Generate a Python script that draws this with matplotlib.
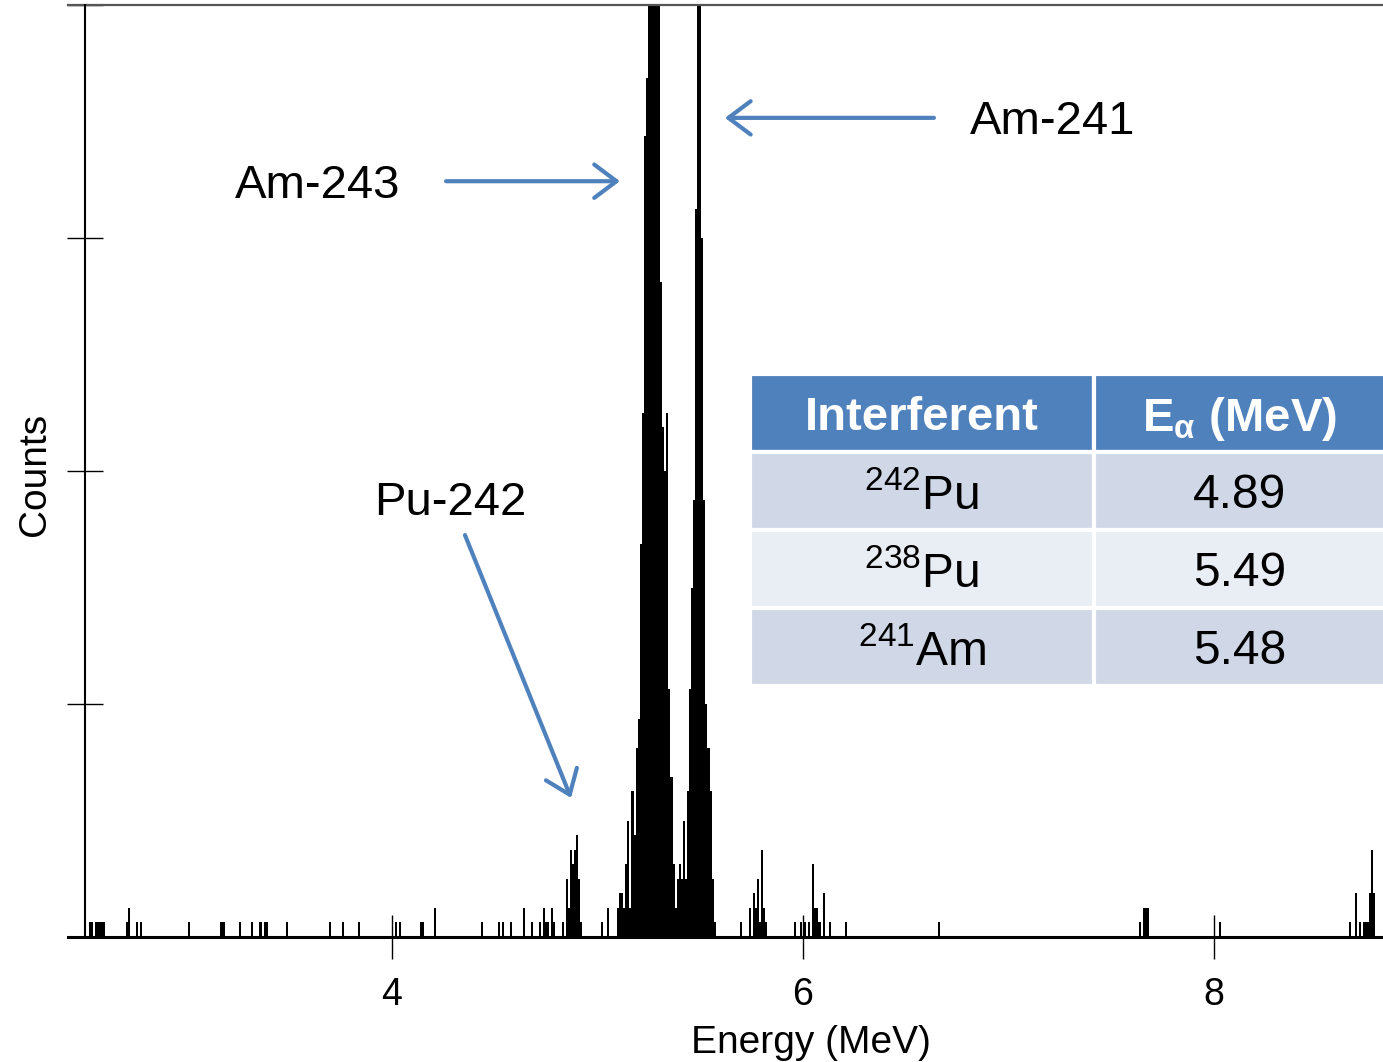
import matplotlib
matplotlib.use('Agg')
import matplotlib.pyplot as plt

plt.rcParams['font.family'] = 'Liberation Sans'
plt.rcParams['mathtext.fontset'] = 'custom'
plt.rcParams['mathtext.rm'] = 'Liberation Sans'
plt.rcParams['mathtext.it'] = 'Liberation Sans:italic'
plt.rcParams['mathtext.bf'] = 'Liberation Sans:bold'
plt.rcParams['mathtext.default'] = 'regular'

# alpha spectrum, counts per 0.01 MeV channel
bg_energy = [2.53, 2.54, 2.56, 2.57, 2.58, 2.59, 2.60, 2.71, 2.72, 2.76, 2.78,
             3.01, 3.17, 3.18, 3.26, 3.32, 3.36, 3.38, 3.39, 3.49, 3.70, 3.76,
             3.84, 4.02, 4.04, 4.14, 4.15, 4.21, 4.44, 4.52, 4.54, 4.58, 4.64,
             4.68, 4.72, 4.74, 4.75, 4.76, 4.78, 4.79, 4.83, 5.02, 5.05,
             5.70, 5.74, 5.76, 5.77, 5.78, 5.79, 5.80, 5.81, 5.82,
             5.96, 5.99, 6.01, 6.03, 6.05, 6.06, 6.07, 6.08, 6.10, 6.13, 6.21,
             6.66, 7.64, 7.66, 7.67, 7.68, 8.03,
             8.66, 8.69, 8.71, 8.73, 8.74, 8.75, 8.76, 8.77, 8.78]
bg_counts = [1, 1, 1, 1, 1, 1, 1, 1, 2, 1, 1,
             1, 1, 1, 1, 1, 1, 1, 1, 1, 1, 1,
             1, 1, 1, 1, 1, 2, 1, 1, 1, 1, 2,
             1, 1, 2, 1, 1, 2, 1, 1, 1, 2,
             1, 2, 3, 2, 4, 1, 6, 2, 1,
             1, 1, 1, 1, 5, 2, 2, 1, 3, 1, 1,
             1, 1, 2, 2, 2, 1,
             1, 3, 1, 1, 1, 1, 3, 6, 3]

pu242_energy = [4.85, 4.86, 4.87, 4.88, 4.89, 4.90, 4.91, 4.92]
pu242_counts = [4, 2, 6, 5, 6, 7, 4, 1]

am243_energy = [5.10, 5.11, 5.12, 5.13, 5.14, 5.15, 5.16, 5.17, 5.18, 5.19,
                5.20, 5.21, 5.22, 5.23, 5.24, 5.25, 5.26, 5.27, 5.28, 5.29,
                5.30, 5.31, 5.32, 5.33, 5.34, 5.35, 5.36, 5.37, 5.38]
am243_counts = [2, 3, 3, 2, 5, 8, 2, 10, 7, 13,
                15, 27, 36, 55, 59, 150, 170, 180, 175, 160,
                140, 45, 35, 32, 36, 17, 11, 5, 2]

am241_energy = [5.39, 5.40, 5.41, 5.42, 5.43, 5.44, 5.45, 5.46, 5.47, 5.48,
                5.49, 5.50, 5.51, 5.52, 5.53, 5.54, 5.55, 5.56, 5.57]
am241_counts = [4, 5, 4, 8, 4, 10, 17, 24, 30, 50,
                110, 100, 48, 30, 16, 13, 10, 4, 1]

peak_labels = ['Am-243', 'Am-241', 'Pu-242']

table_header = ['Interferent', r'E$_{\alpha}$ (MeV)']
table_nuclides = ['$^{242}$Pu', '$^{238}$Pu', '$^{241}$Am']
table_energies = ['4.89', '5.49', '5.48']

energy = bg_energy + pu242_energy + am243_energy + am241_energy
counts = bg_counts + pu242_counts + am243_counts + am241_counts

W, H = 1383, 1062
fig = plt.figure(figsize=(W / 100, H / 100), dpi=100)
ax = fig.add_axes([85 / W, 1 - 937 / H, 1298 / W, 932 / H])

ax.bar(energy, counts, width=0.01, color='black', linewidth=0, antialiased=False)
ax.set_xlim(2.506, 8.822)
ax.set_ylim(0, 64)

# frame
ax.spines['right'].set_visible(False)
ax.spines['top'].set_visible(False)
ax.spines['bottom'].set_visible(False)
ax.spines['left'].set_linewidth(1.5)
ax.plot([-0.0131, 1], [1, 1], transform=ax.transAxes, color='#555555', lw=1.6, clip_on=False)
ax.plot([-0.0131, 1], [0, 0], transform=ax.transAxes, color='black', lw=2.2, clip_on=False)

ax.set_xticks([4, 6, 8])
ax.set_yticks([0, 16, 32, 48, 64])
ax.set_yticklabels([])
ax.tick_params(axis='x', direction='inout', length=31, width=1, labelsize=27, pad=13)
ax.tick_params(axis='y', direction='inout', length=26.6, width=1)

ax.set_xlabel('Energy (MeV)', fontsize=28)
ax.xaxis.set_label_coords(0.559, -0.094)
ax.set_ylabel('Counts', fontsize=28)
ax.yaxis.set_label_coords(-0.025, 0.496)

# peak annotations
blue = '#4F81BD'
arrow = dict(arrowstyle='->,head_length=0.4,head_width=0.3', lw=3, color=blue,
             mutation_scale=40, shrinkA=0, shrinkB=0)
ax.annotate('', xy=(5.109, 51.9), xytext=(4.263, 51.9), arrowprops=arrow)
ax.text(3.640, 51.6, peak_labels[0], fontsize=34, ha='center', va='center')
ax.annotate('', xy=(5.620, 56.25), xytext=(6.637, 56.25), arrowprops=arrow)
ax.text(7.212, 56.0, peak_labels[1], fontsize=34, ha='center', va='center')
ax.annotate('', xy=(4.871, 9.55), xytext=(4.355, 27.6), arrowprops=arrow)
ax.text(4.282, 29.8, peak_labels[2], fontsize=34, ha='center', va='center')

# interferent table
rows = [[n, e] for n, e in zip(table_nuclides, table_energies)]
tab = ax.table(cellText=rows, colLabels=table_header, colWidths=[0.265, 0.225],
               cellLoc='center', bbox=[0.5123, 0.2693, 0.49, 0.335])
tab.auto_set_font_size(False)
row_colors = ['#D0D8E8', '#E9EDF4', '#D0D8E8']
for (r, c), cell in tab.get_celld().items():
    cell.set_edgecolor('white')
    cell.set_linewidth(3)
    txt = cell.get_text()
    txt.set_verticalalignment('center_baseline')
    if r == 0:
        cell.set_facecolor(blue)
        txt.set_color('white')
        txt.set_fontweight('bold')
        txt.set_fontsize(34)
    else:
        cell.set_facecolor(row_colors[r - 1])
        txt.set_fontsize(34.5)

fig.savefig('out.png', dpi=100)
